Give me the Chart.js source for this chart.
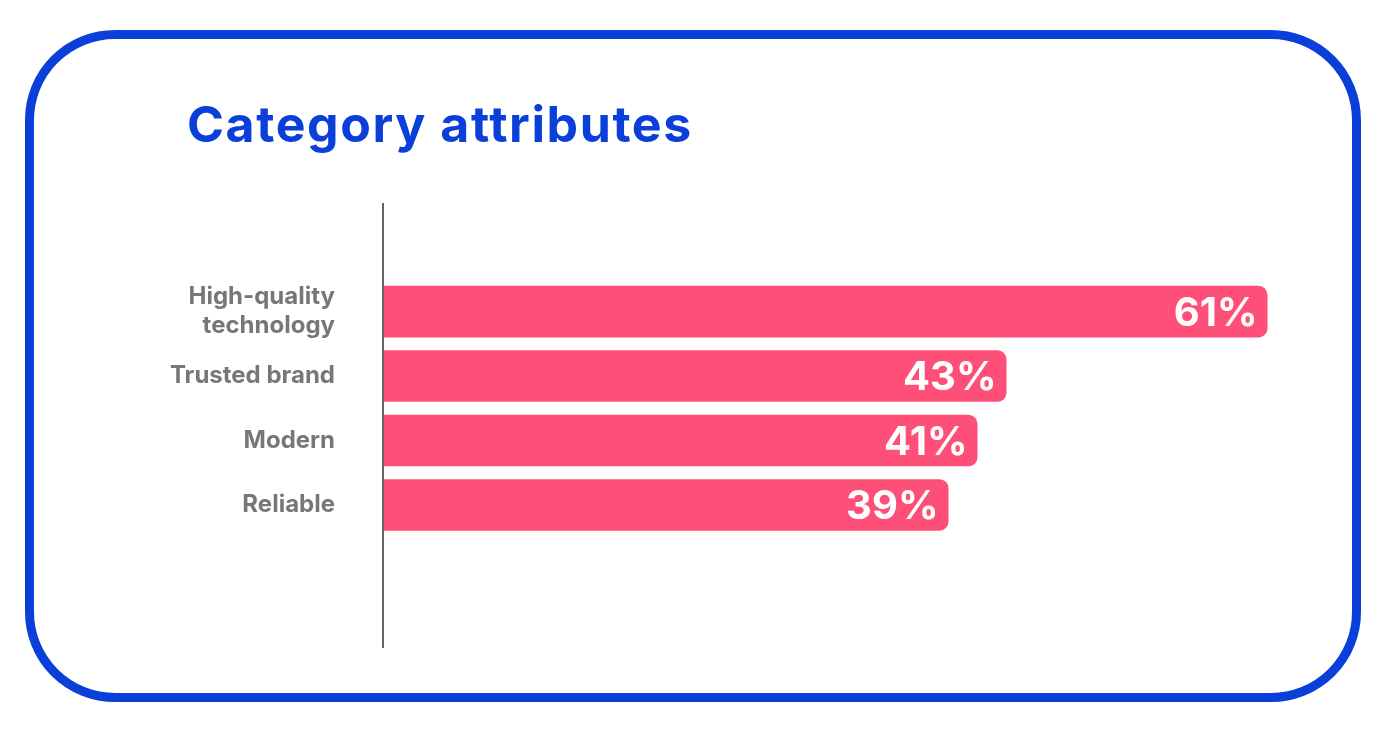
<!DOCTYPE html>
<html><head><meta charset="utf-8">
<script src="https://cdn.jsdelivr.net/npm/chart.js@4"></script>
<style>
body{margin:0;width:1398px;height:732px;background:#fff;position:relative;overflow:hidden;font-family:Inter,"Open Sans",sans-serif}
#frame{position:absolute;left:25px;top:30px;width:1336px;height:672px;border:9px solid #0a3fd9;border-radius:90px;box-sizing:border-box}
#title{position:absolute;left:187px;top:94px;font-size:50px;font-weight:700;color:#0a3fd9;letter-spacing:1.6px}
#axis{position:absolute;left:382px;top:203px;width:2px;height:445px;background:#666}
#wrap{position:absolute;left:0;top:225px;width:1398px;height:381px}
</style></head><body>
<div id="frame"></div>
<div id="title">Category attributes</div>
<div id="wrap"><canvas id="c" width="1398" height="381" style="width:1398px;height:381px"></canvas></div>
<div id="axis"></div>
<script>
const categories=[["High-quality","technology"],"Trusted brand","Modern","Reliable"];
const values=[61,43,41,39];
const valueLabels=["61%","43%","41%","39%"];
const labelPlugin={id:'vl',afterDatasetsDraw(ch){const ctx=ch.ctx;const meta=ch.getDatasetMeta(0);ctx.save();ctx.fillStyle='#fff';ctx.font='700 40px Inter, sans-serif';ctx.textAlign='right';ctx.textBaseline='middle';meta.data.forEach((b,i)=>{ctx.fillText(valueLabels[i],b.x-10,b.y+2);});ctx.restore();}};
new Chart(document.getElementById('c'),{type:'bar',
data:{labels:categories,datasets:[{data:values,backgroundColor:'#fe4f79',borderRadius:{topRight:9,bottomRight:9},borderSkipped:false,barPercentage:0.8,categoryPercentage:1}]},
options:{indexAxis:'y',responsive:false,animation:false,maintainAspectRatio:false,devicePixelRatio:1,
layout:{padding:0},
plugins:{legend:{display:false},tooltip:{enabled:false}},
scales:{x:{min:0,max:70,display:false},
y:{grid:{display:false},border:{display:false},afterFit(s){s.width=383;},
ticks:{color:'#777',font:{size:24,weight:'700',family:'Inter, sans-serif'},padding:40}}}},
plugins:[labelPlugin]});
</script>
</body></html>
